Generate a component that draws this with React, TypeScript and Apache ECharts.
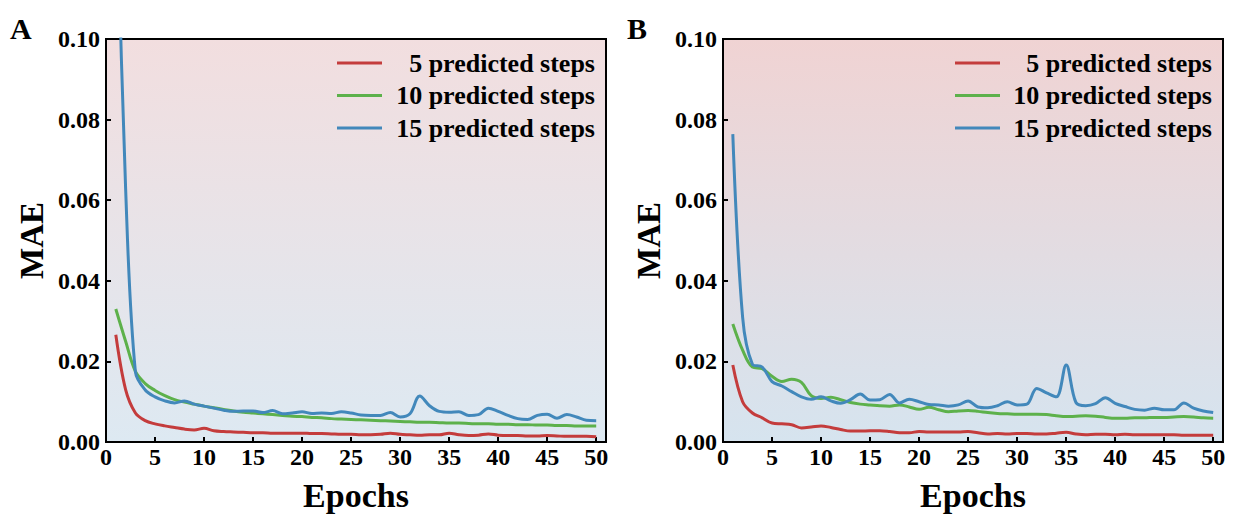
import React, { useEffect, useRef } from "react";
import * as echarts from "echarts";

const epochs = [
  1, 2, 3, 4, 5, 6, 7, 8, 9, 10, 11, 12, 13, 14, 15, 16, 17, 18, 19, 20, 21, 22, 23, 24, 25,
  26, 27, 28, 29, 30, 31, 32, 33, 34, 35, 36, 37, 38, 39, 40, 41, 42, 43, 44, 45, 46, 47, 48, 49, 50,
];
const seriesNames = ["5 predicted steps", "10 predicted steps", "15 predicted steps"];
const xTicks = ["0", "5", "10", "15", "20", "25", "30", "35", "40", "45", "50"];

const redA = [
  0.0266, 0.013, 0.0072, 0.0053, 0.0045, 0.004, 0.0036, 0.0032, 0.003, 0.0034, 0.0028, 0.0026, 0.0025,
  0.0024, 0.0023, 0.0023, 0.0022, 0.0022, 0.0022, 0.0022, 0.0021, 0.0021, 0.002, 0.0019, 0.0019, 0.0018,
  0.0018, 0.0019, 0.0022, 0.0019, 0.0018, 0.0017, 0.0018, 0.0018, 0.0022, 0.0018, 0.0016, 0.0017, 0.002,
  0.0017, 0.0016, 0.0016, 0.0015, 0.0015, 0.0016, 0.0015, 0.0014, 0.0014, 0.0014, 0.0013,
];
const greenA = [
  0.033, 0.025, 0.0175, 0.0145, 0.0128, 0.0115, 0.0105, 0.0099, 0.0094, 0.0089, 0.0085, 0.0081, 0.0077,
  0.0074, 0.0072, 0.007, 0.0068, 0.0066, 0.0064, 0.0063, 0.0061, 0.006, 0.0058, 0.0057, 0.0056, 0.0055,
  0.0054, 0.0053, 0.0052, 0.0051, 0.005, 0.0049, 0.0049, 0.0048, 0.0047, 0.0047, 0.0046, 0.0045, 0.0045,
  0.0044, 0.0044, 0.0043, 0.0043, 0.0042, 0.0042, 0.0041, 0.0041, 0.004, 0.004, 0.004,
];
const blueA = [
  0.146, 0.063, 0.0174, 0.0129, 0.0112, 0.0102, 0.0097, 0.0102, 0.0094, 0.0089, 0.0084, 0.0079, 0.0076,
  0.0077, 0.0077, 0.0073, 0.0078, 0.007, 0.0072, 0.0075, 0.0071, 0.0072, 0.0071, 0.0075, 0.0072, 0.0067,
  0.0066, 0.0066, 0.0073, 0.0062, 0.007, 0.0114, 0.009, 0.0076, 0.0074, 0.0075, 0.0066, 0.0068, 0.0084,
  0.0076, 0.0066, 0.0058, 0.0056, 0.0066, 0.0069, 0.0059, 0.0068, 0.0062, 0.0054, 0.0053,
];

const redB = [
  0.0191, 0.01, 0.0072, 0.006, 0.0047, 0.0045, 0.0043, 0.0035, 0.0037, 0.004, 0.0036, 0.0031, 0.0027,
  0.0027, 0.0028, 0.0028, 0.0026, 0.0023, 0.0023, 0.0026, 0.0025, 0.0025, 0.0025, 0.0025, 0.0026, 0.0023,
  0.002, 0.0021, 0.002, 0.0021, 0.0021, 0.002, 0.002, 0.0022, 0.0024, 0.002, 0.0018, 0.0019, 0.0019,
  0.0018, 0.0019, 0.0018, 0.0018, 0.0018, 0.0018, 0.0018, 0.0017, 0.0017, 0.0017, 0.0017,
];
const greenB = [
  0.0293, 0.0228, 0.0186, 0.0182, 0.0163, 0.015, 0.0156, 0.0148, 0.0115, 0.0108, 0.0111, 0.0105, 0.0098,
  0.0094, 0.0092, 0.009, 0.0089, 0.0092, 0.0087, 0.0081, 0.0086, 0.008, 0.0075, 0.0077, 0.0078, 0.0076,
  0.0073, 0.0071, 0.007, 0.0069, 0.0069, 0.0069, 0.0068, 0.0065, 0.0063, 0.0064, 0.0065, 0.0064, 0.0061,
  0.0059, 0.0059, 0.006, 0.006, 0.0061, 0.0061, 0.0062, 0.0063, 0.0062, 0.006, 0.0059,
];
const blueB = [
  0.0764, 0.031, 0.0193, 0.0186, 0.015, 0.0139, 0.0125, 0.0112, 0.0106, 0.0112, 0.0102, 0.0096, 0.0105,
  0.0119, 0.0104, 0.0105, 0.0118, 0.0097, 0.0106, 0.01, 0.0093, 0.0092, 0.0089, 0.0092, 0.0102, 0.0087,
  0.0085, 0.009, 0.01, 0.0092, 0.0094, 0.0133, 0.0122, 0.0112, 0.0191, 0.0098, 0.009, 0.0095, 0.011,
  0.0096, 0.0088, 0.0081, 0.0079, 0.0084, 0.008, 0.008, 0.0097, 0.0084, 0.0077, 0.0073,
];

const colors = ["#c43c3c", "#5db14b", "#4288bb"];
const FONT = "Liberation Serif";

const pair = (vals: number[]) => epochs.map((e, i) => [e, vals[i]]);

export default function App() {
  const ref = useRef<HTMLDivElement>(null);
  useEffect(() => {
    document.body.style.margin = "0";
    if (!ref.current) return;
    const chart = echarts.init(ref.current, undefined, { renderer: "svg" });

    const grids = [
      { left: 106, top: 39, width: 500, height: 403, top0: "#f2dedf", bot0: "#dde9f2" },
      { left: 723, top: 39, width: 500, height: 403, top0: "#f0d3d3", bot0: "#d6e4ef" },
    ];

    const mkX = (i: number) => ({
      type: "value",
      gridIndex: i,
      min: 0,
      max: 51,
      interval: 5,
      name: "Epochs",
      nameLocation: "middle",
      nameGap: 36,
      nameTextStyle: { fontFamily: FONT, fontWeight: "bold", fontSize: 34, color: "#000" },
      axisLine: { show: true, lineStyle: { color: "#000", width: 2 } },
      axisTick: { show: true, inside: true, length: 5, lineStyle: { color: "#000", width: 2 } },
      axisLabel: {
        fontFamily: FONT,
        fontWeight: "bold",
        fontSize: 24,
        color: "#000",
        margin: 3,
        showMaxLabel: false,
        formatter: (v: number) => {
          const idx = xTicks.indexOf(String(v));
          return idx >= 0 ? xTicks[idx] : "";
        },
      },
      splitLine: { show: false },
    });
    const mkY = (i: number) => ({
      type: "value",
      gridIndex: i,
      min: 0,
      max: 0.1,
      interval: 0.02,
      name: "MAE",
      nameLocation: "middle",
      nameRotate: 90,
      nameGap: 58,
      nameTextStyle: { fontFamily: FONT, fontWeight: "bold", fontSize: 33, color: "#000" },
      axisLine: { show: true, lineStyle: { color: "#000", width: 2 } },
      axisTick: { show: true, inside: true, length: 5, lineStyle: { color: "#000", width: 2 } },
      axisLabel: {
        fontFamily: FONT,
        fontWeight: "bold",
        fontSize: 24,
        color: "#000",
        margin: 6,
        formatter: (v: number) => v.toFixed(2),
      },
      splitLine: { show: false },
    });

    const dataSets = [
      [redA, greenA, blueA],
      [redB, greenB, blueB],
    ];
    const series: any[] = [];
    dataSets.forEach((set, gi) => {
      set.forEach((vals, si) => {
        series.push({
          type: "line",
          name: seriesNames[si],
          xAxisIndex: gi,
          yAxisIndex: gi,
          data: pair(vals),
          smooth: 0.35,
          showSymbol: false,
          clip: true,
          lineStyle: { color: colors[si], width: 3 },
          itemStyle: { color: colors[si] },
          z: 3 + si,
        });
      });
    });

    const legendGraphics: any[] = [];
    const legendPos = [
      { x1: 337, x2: 382, tx: 595 },
      { x1: 955, x2: 1000, tx: 1212 },
    ];
    const rowsY = [63, 95.5, 128];
    legendPos.forEach((p) => {
      seriesNames.forEach((n, i) => {
        legendGraphics.push({
          type: "line",
          shape: { x1: p.x1, y1: rowsY[i], x2: p.x2, y2: rowsY[i] },
          style: { stroke: colors[i], lineWidth: 3 },
          z: 10,
        });
        legendGraphics.push({
          type: "text",
          x: p.tx,
          y: rowsY[i],
          style: {
            text: n,
            align: "right",
            verticalAlign: "middle",
            fontFamily: FONT,
            fontWeight: "bold",
            fontSize: 26,
            fill: "#000",
          },
          z: 10,
        });
      });
    });
    legendGraphics.push({
      type: "text",
      x: 10,
      y: 28,
      style: {
        text: "A",
        verticalAlign: "middle",
        fontFamily: FONT,
        fontWeight: "bold",
        fontSize: 30,
        fill: "#000",
      },
    });
    legendGraphics.push({
      type: "text",
      x: 627,
      y: 28,
      style: {
        text: "B",
        verticalAlign: "middle",
        fontFamily: FONT,
        fontWeight: "bold",
        fontSize: 30,
        fill: "#000",
      },
    });

    chart.setOption({
      animation: false,
      backgroundColor: "#ffffff",
      textStyle: { fontFamily: FONT },
      grid: grids.map((g) => ({
        left: g.left,
        top: g.top,
        width: g.width,
        height: g.height,
        show: true,
        borderColor: "#000",
        borderWidth: 2,
        backgroundColor: {
          type: "linear",
          x: 0,
          y: 0,
          x2: 0,
          y2: 1,
          colorStops: [
            { offset: 0, color: g.top0 },
            { offset: 1, color: g.bot0 },
          ],
        },
      })),
      xAxis: [mkX(0), mkX(1)],
      yAxis: [mkY(0), mkY(1)],
      series,
      graphic: legendGraphics,
    });
    return () => chart.dispose();
  }, []);
  return <div ref={ref} style={{ width: 1235, height: 517 }} />;
}
